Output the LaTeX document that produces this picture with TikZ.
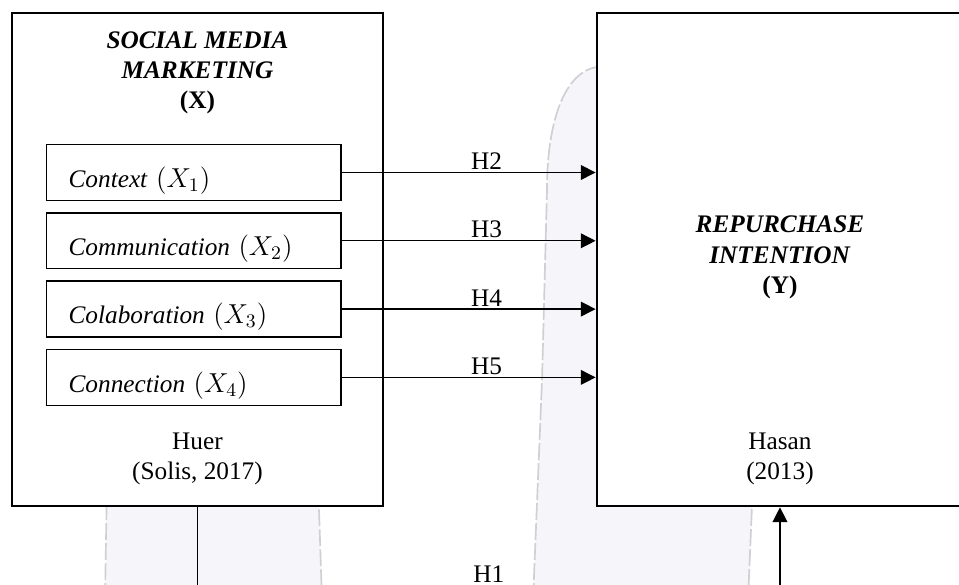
\documentclass[tikz,border=0pt]{standalone}
\usepackage{fix-cm}
\usepackage{amsmath}
\usepackage{fontspec}
\setmainfont{Liberation Serif}
\usepackage{tikz}
\usepackage{xcolor}
\definecolor{scanshade}{HTML}{F6F6FA}
\definecolor{scanedge}{HTML}{D0D0D4}
\newcommand{\Xvar}[1]{{\fontsize{13pt}{14pt}\selectfont$(X_{#1})$}}
\usetikzlibrary{arrows.meta,positioning}

\begin{document}
\begin{tikzpicture}[font=\fontsize{12pt}{14.3pt}\selectfont,node distance=0.185cm,
  mainbox/.style={draw,line width=1.3pt,fill=white,minimum width=#1,minimum height=8.225cm,inner sep=0pt},
  dimbox/.style={draw,line width=0.7pt,fill=white,anchor=west,align=left,text width=119pt,inner xsep=10.4pt,minimum height=0.93cm,text height=14pt,text depth=0pt},
  hyp/.style={line width=0.6pt,-{Triangle[length=7pt,width=7pt]}}]
\clip (0,0) rectangle (16,9.76);
\filldraw[fill=scanshade,draw=scanedge,dash pattern=on 8pt off 1.5pt,line width=0.8pt] (8.893,-0.25) -- (9.043,3.42) -- (9.126,6.59) .. controls (9.126,7.758) and (9.426,8.559) .. (9.96,8.642) -- (11.679,8.642) -- (12.546,1.318) -- (12.48,-0.25) -- cycle;
\filldraw[fill=scanshade,draw=scanedge,dash pattern=on 8pt off 1.5pt,line width=0.8pt] (1.752,-0.25) -- (1.785,1.75) -- (5.306,1.75) -- (5.372,-0.25) -- cycle;
\node[mainbox=6.19cm] (smm) at (3.295,5.431) {};
\node[mainbox=6.107cm] (rpi) at (13.013,5.431) {};
\node[anchor=north,align=center,inner sep=0pt] (smmtitle) at ([yshift=-0.333cm]smm.north) {\textbf{\textit{SOCIAL MEDIA}}\\\textbf{\textit{MARKETING}}\\\textbf{(X)}};
\node[align=center,inner sep=0pt] (rpititle) at ([yshift=1pt]rpi.center) {\textbf{\textit{REPURCHASE}}\\\textbf{\textit{INTENTION}}\\\textbf{(Y)}};
\node[anchor=north,align=center,inner sep=0pt] (smmsrc) at ([yshift=1.25cm]smm.south) {Huer\\(Solis, 2017)};
\node[anchor=north,align=center,inner sep=0pt] (rpisrc) at ([yshift=1.25cm]rpi.south) {Hasan\\(2013)};
\node[dimbox] (ctx) at (0.767,6.882) {\textit{Context} \Xvar{1}};
\node[dimbox,below=of ctx] (com) {\textit{Communication} \Xvar{2}};
\node[dimbox,below=of com] (col) {\textit{Colaboration} \Xvar{3}};
\node[dimbox,below=of col] (con) {\textit{Connection} \Xvar{4}};
\draw[hyp] (ctx.east) -- (ctx.east -| rpi.west) node[pos=0.57,above,inner sep=1pt] {H2};
\draw[hyp] (com.east) -- (com.east -| rpi.west) node[pos=0.57,above,inner sep=1pt] {H3};
\draw[hyp] (col.east) -- (col.east -| rpi.west) node[pos=0.57,above,inner sep=1pt] {H4};
\draw[hyp] (con.east) -- (con.east -| rpi.west) node[pos=0.57,above,inner sep=1pt] {H5};
\draw[hyp] (smm.south) -- ++(0,-1.35) -| (rpi.south) node[pos=0.25,above,inner sep=2.6pt] {H1};
\end{tikzpicture}
\end{document}
